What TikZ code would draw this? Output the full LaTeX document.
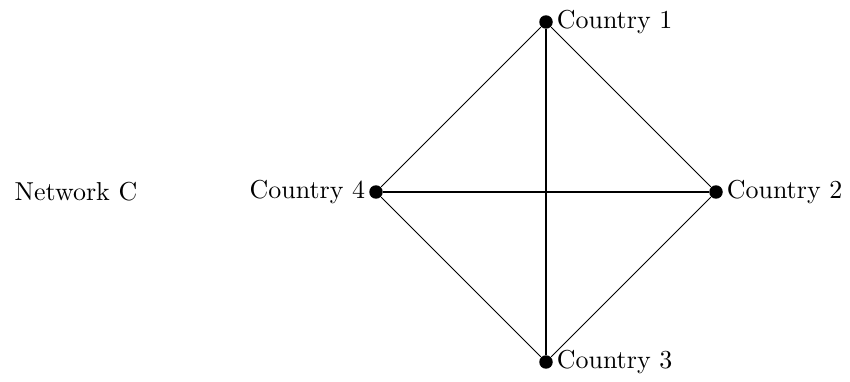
\documentclass[tikz,border=0pt]{standalone}
\begin{document}
\begin{tikzpicture}[x=0.3855pt,y=-0.3855pt,
  vert/.style={circle,fill=black,inner sep=0pt,minimum size=5.2pt},
  edge/.style={draw=black,line width=0.4pt},
  lab/.style={inner sep=1.2pt,font=\normalsize}]
\useasboundingbox (0,0) rectangle (850,382);
\node (net) at (76,192) {Network C};
\node[vert,label={[lab]right:Country 1}] (c1) at (546,22) {};
\node[vert,label={[lab]right:Country 2}] (c2) at (716,192) {};
\node[vert,label={[lab]right:Country 3}] (c3) at (546,362) {};
\node[vert,label={[lab]left:Country 4}] (c4) at (376,192) {};
\draw[edge] (c1) -- (c2);
\draw[edge] (c2) -- (c3);
\draw[edge] (c3) -- (c4);
\draw[edge] (c4) -- (c1);
\draw[edge] (c1) -- (c3);
\draw[edge] (c4) -- (c2);
\end{tikzpicture}
\end{document}
